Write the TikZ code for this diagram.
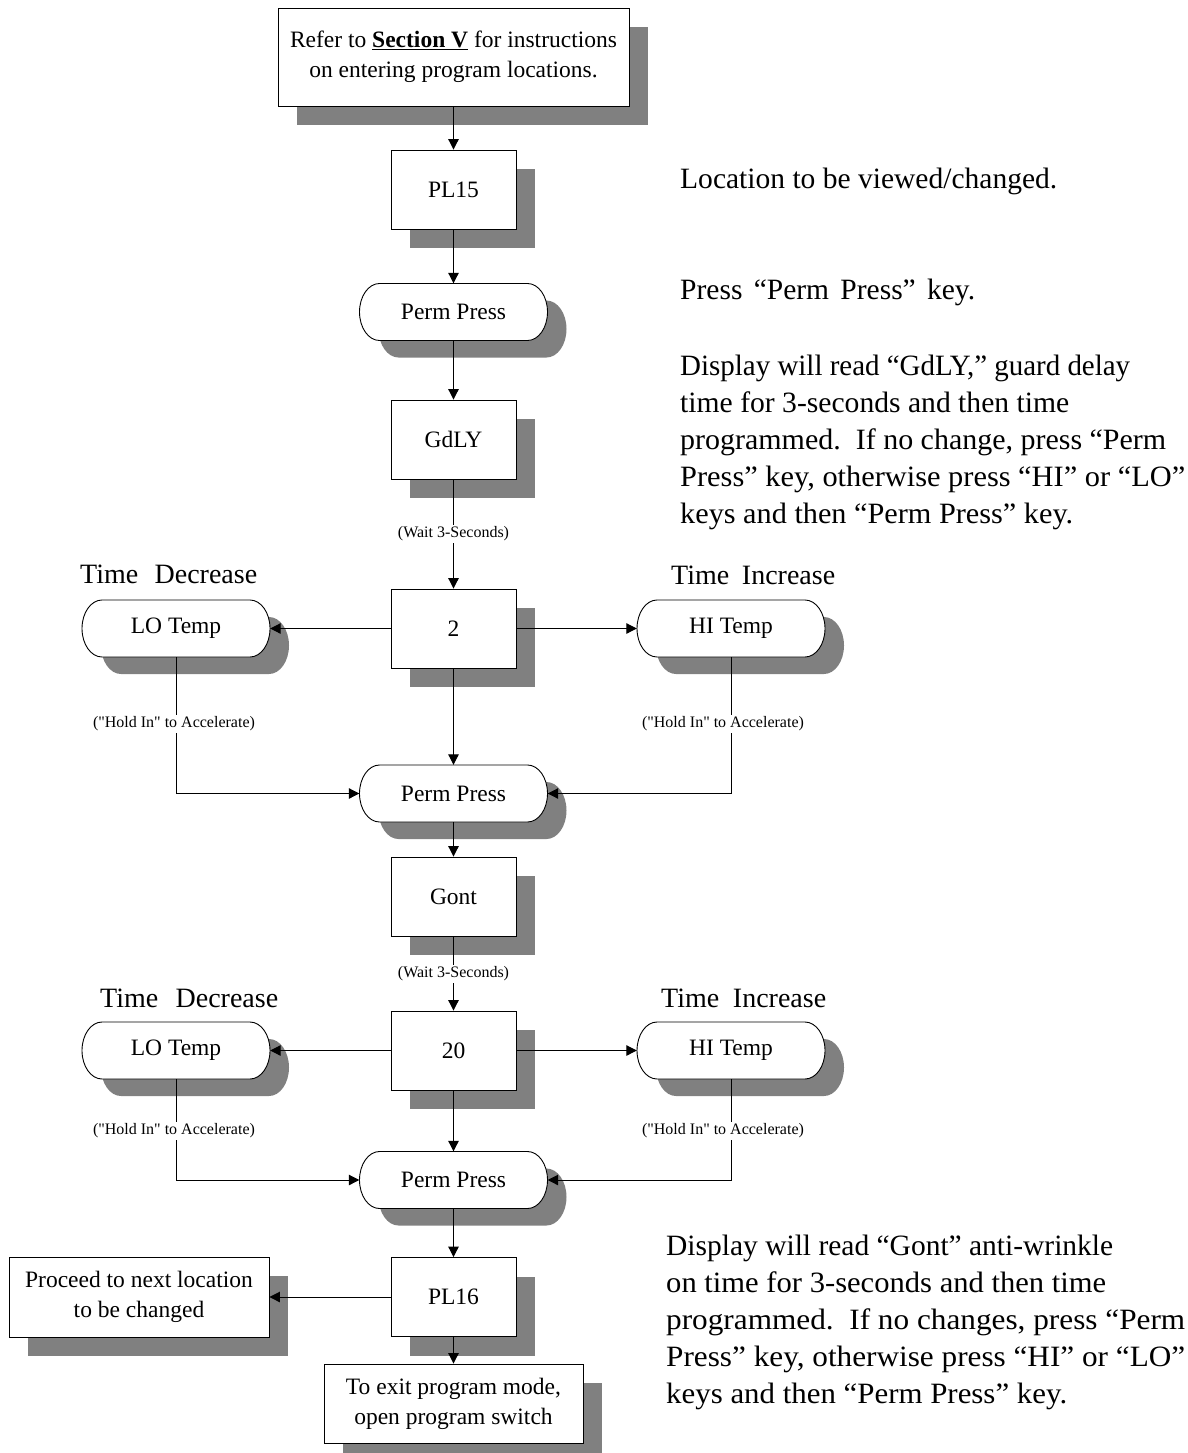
\documentclass[tikz,border=0pt]{standalone}
\usepackage{fontspec}
\usepackage{graphicx}
\setmainfont{Liberation Serif}
\newfontfamily\lblfont{Liberation Serif}[Ligatures=TeXOff]
\usetikzlibrary{arrows.meta,shadows}
\definecolor{shadowgray}{RGB}{128,128,128}
\tikzset{
  conn/.style={draw=black, line width=1pt, -{Triangle[length=10.5pt,width=10.5pt]}},
  rbox/.style={rectangle, draw=black, line width=0.9pt, fill=white, inner sep=0pt, align=center,
    minimum width=125pt, minimum height=79pt, font=\fontsize{23.5}{30}\selectfont,
    drop shadow={shadow xshift=19pt, shadow yshift=-19pt, fill=shadowgray, opacity=1}},
  pilltext/.style={rectangle, inner sep=0pt, minimum width=188pt, minimum height=57pt,
    font=\fontsize{23.5}{28}\selectfont},
  pillpath/.style={insert path={([xshift=-74pt,yshift=28.5pt]#1) -- ([xshift=74pt,yshift=28.5pt]#1)
    arc[start angle=90,end angle=-90,x radius=20pt,y radius=28.5pt]
    -- ([xshift=-74pt,yshift=-28.5pt]#1)
    arc[start angle=270,end angle=90,x radius=20pt,y radius=28.5pt] -- cycle}},
  lbl/.style={fill=white, inner sep=1.5pt, font=\lblfont\fontsize{16}{19}\selectfont},
  side/.style={anchor=base west, inner sep=0pt, font=\fontsize{29.5}{37}\selectfont},
  head/.style={anchor=base west, inner sep=0pt, font=\fontsize{28}{32}\selectfont}
}
\newcommand\pill[4]{%
  \coordinate (#1-c) at (#2,#3);
  \coordinate (#1-s) at ([xshift=19pt,yshift=-17pt]#1-c);
  \fill[fill=shadowgray] (#1-s) [pillpath=#1-s];
  \draw[fill=white, line width=0.9pt] (#1-c) [pillpath=#1-c];
  \node[pilltext] (#1) at (#1-c) {#4};
}
\newcommand\fitw[2]{\resizebox{#1pt}{\height}{#2}}
\newcommand\spread[2]{\makebox[#1pt][s]{#2}}
\begin{document}
\begin{tikzpicture}[x=1pt,y=-1pt]
\useasboundingbox[fill=white] (0,0) rectangle (1187,1453);

% ---- boxes ----
\node[rbox, minimum width=351pt, minimum height=98pt] (top) at (453.5,57)
  {Refer to \textbf{\underline{Section V}} for instructions\\on entering program locations.};
\node[rbox] (pl15) at (453.5,189.5) {PL15};
\pill{pp1}{453.5}{312}{Perm Press}
\node[rbox] (gdly) at (453.5,439.5) {GdLY};
\node[rbox] (b2) at (453.5,628.5) {2};
\pill{lo1}{176}{628.5}{LO Temp}
\pill{hi1}{731}{628.5}{HI Temp}
\pill{pp2}{453.5}{793.5}{Perm Press}
\node[rbox] (gont) at (453.5,896.5) {Gont};
\node[rbox] (b20) at (453.5,1050.5) {20};
\pill{lo2}{176}{1050.5}{LO Temp}
\pill{hi2}{731}{1050.5}{HI Temp}
\pill{pp3}{453.5}{1180}{Perm Press}
\node[rbox] (pl16) at (453.5,1297) {PL16};
\node[rbox, minimum width=260pt, minimum height=80pt] (proc) at (139,1297)
  {Proceed to next location\\to be changed};
\node[rbox, minimum width=259pt, minimum height=79pt] (exit) at (453.5,1403.5)
  {To exit program mode,\\open program switch};

% ---- connectors ----
\draw[conn] (top.south) -- (pl15.north);
\draw[conn] (pl15.south) -- (pp1.north);
\draw[conn] (pp1.south) -- (gdly.north);
\draw[conn] (gdly.south) -- (b2.north);
\node[lbl] (w1) at (453.5,534) {(Wait 3-Seconds)};
\draw[conn] (b2.west) -- (lo1.east);
\draw[conn] (b2.east) -- (hi1.west);
\draw[conn] (b2.south) -- (pp2.north);
\draw[conn] (lo1.south) |- (pp2.west);
\draw[conn] (hi1.south) |- (pp2.east);
\node[lbl] (h1) at (174,724) {("Hold In" to Accelerate)};
\node[lbl] (h2) at (723,724) {("Hold In" to Accelerate)};
\draw[conn] (pp2.south) -- (gont.north);
\draw[conn] (gont.south) -- (b20.north);
\node[lbl] (w2) at (453.5,974) {(Wait 3-Seconds)};
\draw[conn] (b20.west) -- (lo2.east);
\draw[conn] (b20.east) -- (hi2.west);
\draw[conn] (b20.south) -- (pp3.north);
\draw[conn] (lo2.south) |- (pp3.west);
\draw[conn] (hi2.south) |- (pp3.east);
\node[lbl] (h3) at (174,1131) {("Hold In" to Accelerate)};
\node[lbl] (h4) at (723,1131) {("Hold In" to Accelerate)};
\draw[conn] (pp3.south) -- (pl16.north);
\draw[conn] (pl16.west) -- (proc.east);
\draw[conn] (pl16.south) -- (exit.north);

% ---- headings ----
\node[head] (td1) at (80,583) {\spread{177}{Time Decrease}};
\node[head] (ti1) at (671,584) {\spread{164}{Time Increase}};
\node[head] (td2) at (100,1007) {\spread{178}{Time Decrease}};
\node[head] (ti2) at (661,1007) {\spread{165}{Time Increase}};

% ---- side notes ----
\node[side] (n1) at (680,188) {\fitw{377}{Location to be viewed/changed.}};
\node[side] (n2) at (680,299) {\spread{295}{Press “Perm Press” key.}};
\node[side] (n3a) at (680,375) {\fitw{450}{Display will read “GdLY,” guard delay}};
\node[side] (n3b) at (680,412) {\fitw{389}{time for 3-seconds and then time}};
\node[side] (n3c) at (680,449) {\fitw{486}{programmed.\ \ If no change, press “Perm}};
\node[side] (n3d) at (680,486) {\fitw{505}{Press” key, otherwise press “HI” or “LO”}};
\node[side] (n3e) at (680,523) {\fitw{393}{keys and then “Perm Press” key.}};

\node[side] (n4a) at (666,1255) {\fitw{447}{Display will read “Gont” anti-wrinkle}};
\node[side] (n4b) at (666,1292) {\fitw{440}{on time for 3-seconds and then time}};
\node[side] (n4c) at (666,1329) {\fitw{519}{programmed.\ \ If no changes, press “Perm}};
\node[side] (n4d) at (666,1366) {\fitw{519}{Press” key, otherwise press “HI” or “LO”}};
\node[side] (n4e) at (666,1403) {\fitw{401}{keys and then “Perm Press” key.}};
\end{tikzpicture}
\end{document}
